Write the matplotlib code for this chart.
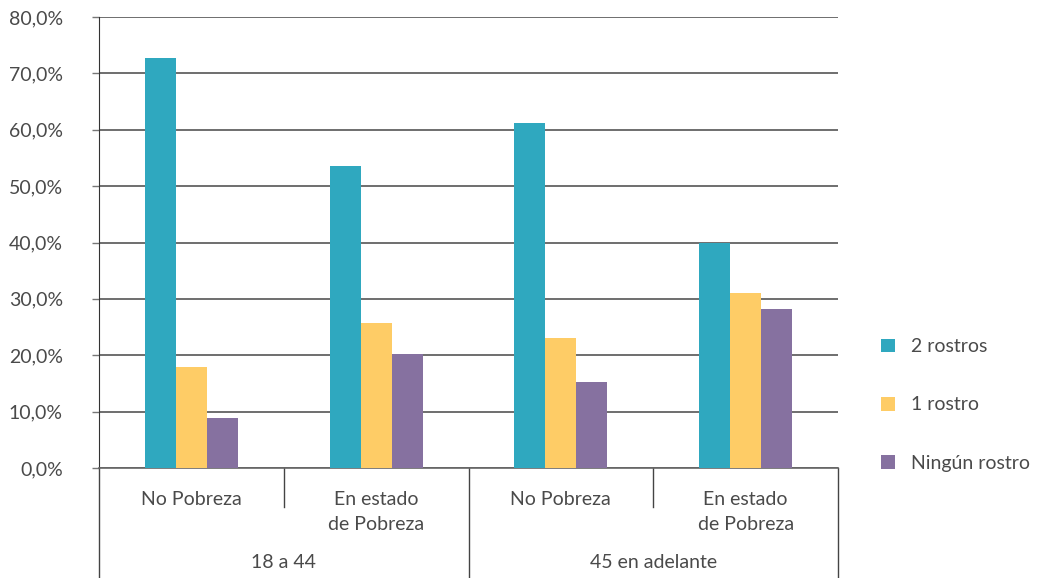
import matplotlib
matplotlib.use("Agg")
import matplotlib.pyplot as plt
import matplotlib.transforms as mtransforms
import numpy as np

plt.rcParams['font.family'] = ['Lato', 'DejaVu Sans']

# data
categorias = ["No Pobreza", "En estado\nde Pobreza", "No Pobreza", "En estado\nde Pobreza"]
grupos = ["18 a 44", "45 en adelante"]
series = ["2 rostros", "1 rostro", "Ningún rostro"]
dos_rostros = [72.7, 53.6, 61.2, 39.9]
un_rostro = [17.9, 25.7, 23.1, 31.0]
ningun_rostro = [8.9, 20.2, 15.3, 28.2]
colores = ["#2FA8BF", "#FECC66", "#8671A0"]

txt = "#4a4a4a"
fs = 14

fig = plt.figure(figsize=(10.43, 5.78), dpi=100)
ax = fig.add_axes([99/1043, 1 - 468/578, (838 - 99)/1043, (468 - 17)/578])

x = np.arange(len(categorias))
w = 0.168
for i, (vals, lab) in enumerate(zip([dos_rostros, un_rostro, ningun_rostro], series)):
    ax.bar(x + (i - 1) * w, vals, w, color=colores[i], label=lab, zorder=3)

ax.set_xlim(-0.5, 3.5)
ax.set_ylim(0, 80)
ax.set_yticks(np.arange(0, 81, 10))
ax.set_yticklabels([f"{v:.1f}%".replace(".", ",") for v in np.arange(0, 81, 10)],
                   fontsize=fs, color=txt)
ax.tick_params(axis='y', length=5, width=1, color="#777777", pad=21)
ax.tick_params(axis='x', length=0, labelbottom=False)
ax.grid(axis='y', color="#555555", lw=1.2, zorder=0)
for s in ["top", "right"]:
    ax.spines[s].set_visible(False)
ax.spines["left"].set_color("#333333")
ax.spines["bottom"].set_color("#666666")
ax.spines["bottom"].set_linewidth(1.2)

# category and group labels below the axis
trans = mtransforms.blended_transform_factory(ax.transData, ax.transAxes)
for xi, c in zip(x, categorias):
    ax.text(xi, -0.05, c, transform=trans, ha="center", va="top",
            fontsize=fs, color=txt, linespacing=1.6)
for gi, g in enumerate(grupos):
    ax.text(gi * 2 + 0.5, -0.19, g, transform=trans, ha="center", va="top",
            fontsize=fs, color=txt)

# separators
for xs in [-0.5, 1.5, 3.5]:
    ax.plot([xs, xs], [0, -0.245], transform=trans, color="#444444", lw=1, clip_on=False)
for xs in [0.5, 2.5]:
    ax.plot([xs, xs], [0, -0.087], transform=trans, color="#444444", lw=1, clip_on=False)

fig.legend(loc="center left", bbox_to_anchor=(0.828, 1 - 405/578), frameon=False,
           fontsize=fs, labelcolor=txt, handlelength=0.72, handleheight=0.72,
           handletextpad=0.8, labelspacing=2.12)

fig.savefig("out.png", dpi=100)
